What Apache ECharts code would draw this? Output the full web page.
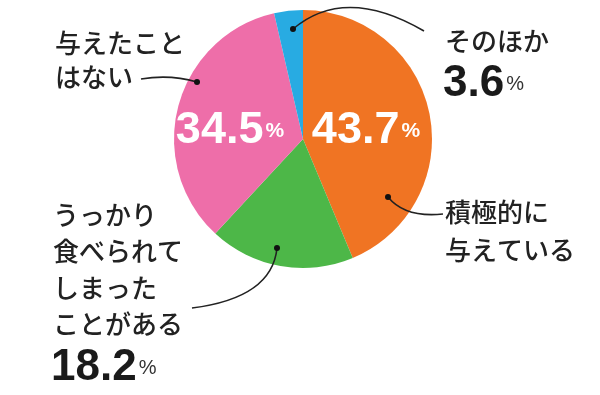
<!DOCTYPE html>
<html><head><meta charset="utf-8">
<script src="https://cdn.jsdelivr.net/npm/echarts@6/dist/echarts.min.js"></script>
<style>html,body{margin:0;padding:0;background:#fff}#c{width:600px;height:395px}</style>
</head><body><div id="c"></div>
<script>
const categories = ['積極的に与えている', 'うっかり食べられてしまったことがある', '与えたことはない', 'そのほか'];
const labelLines = [['積極的に', '与えている'], ['うっかり', '食べられて', 'しまった', 'ことがある'], ['与えたこと', 'はない'], ['そのほか']];
const values = [43.7, 18.2, 34.5, 3.6];
const colors = ['#F07423', '#4DB748', '#EE6EA9', '#28ABE2'];
const insideLabel = [true, false, true, false];

const chart = echarts.init(document.getElementById('c'));
const CX = 303, CY = 139, R = 129;
const JP = '"Noto Sans CJK JP", "Noto Sans", sans-serif';
const NUM = '"Liberation Sans", Arial, sans-serif';

// layout of annotations (positions only)
const insidePos = {0: [366, 131], 2: [230, 131]};
const outer = [
  {tx: 445, ty: 212, lh: 38, valueBelow: false, dot: [388, 197], curve: [443, 214, 405, 218]},
  {tx: 53, ty: 215, lh: 36.5, valueBelow: true, dot: [277, 248], curve: [192, 308, 272, 298]},
  {tx: 55, ty: 43, lh: 34, valueBelow: false, dot: [197, 82], curve: [141, 79, 170, 74]},
  {tx: 445, ty: 41, lh: 36, valueBelow: true, dot: [293, 29], curve: [424, 31, 345, -15]}
];

const graphics = [];
values.forEach((v, i) => {
  const o = outer[i];
  graphics.push({type: 'bezierCurve', z: 10, shape: {x1: o.dot[0], y1: o.dot[1], x2: o.curve[0], y2: o.curve[1], cpx1: o.curve[2], cpy1: o.curve[3]}, style: {stroke: '#222', lineWidth: 1.6, fill: null}});
  graphics.push({type: 'circle', z: 11, shape: {cx: o.dot[0], cy: o.dot[1], r: 3}, style: {fill: '#111'}});
  labelLines[i].forEach((t, k) => {
    graphics.push({type: 'text', z: 10, x: o.tx, y: o.ty + k * o.lh, style: {text: t, font: '500 26px ' + JP, fill: '#222', textVerticalAlign: 'middle', textAlign: 'left'}});
  });
  if (o.valueBelow) {
    const y = o.ty + labelLines[i].length * o.lh + 7;
    graphics.push({type: 'text', z: 10, x: o.tx - 2, y: y, style: {
      text: '{v|' + v.toFixed(1) + '}{p|%}', textVerticalAlign: 'middle',
      rich: {v: {fontFamily: NUM, fontWeight: 'bold', fontSize: 44, fill: '#1a1a1a', verticalAlign: 'middle', lineHeight: 44},
             p: {fontFamily: NUM, fontSize: 20, fill: '#333', verticalAlign: 'middle', lineHeight: 44, padding: [0, 0, 0, 2]}}
    }});
  }
});

chart.setOption({
  animation: false,
  graphic: graphics,
  series: [{
    type: 'pie',
    center: [CX, CY],
    radius: R,
    startAngle: 90,
    clockwise: true,
    silent: true,
    itemStyle: {borderWidth: 0},
    labelLine: {show: false},
    data: values.map((v, i) => ({
      value: v, name: categories[i],
      itemStyle: {color: colors[i]},
      label: {show: insideLabel[i]}
    })),
    label: {
      position: 'inside',
      formatter: p => '{v|' + p.value.toFixed(1) + '}{p|%}',
      rich: {
        v: {fontFamily: NUM, fontWeight: 'bold', fontSize: 45, color: '#fff', verticalAlign: 'middle', lineHeight: 44},
        p: {fontFamily: NUM, fontWeight: 'bold', fontSize: 21, color: '#fff', verticalAlign: 'middle', lineHeight: 44, padding: [0, 0, 0, 2]}
      }
    },
    labelLayout: p => {
      const pos = insidePos[p.dataIndex];
      return pos ? {x: pos[0], y: pos[1], align: 'center', verticalAlign: 'middle'} : {};
    }
  }]
});
</script></body></html>
